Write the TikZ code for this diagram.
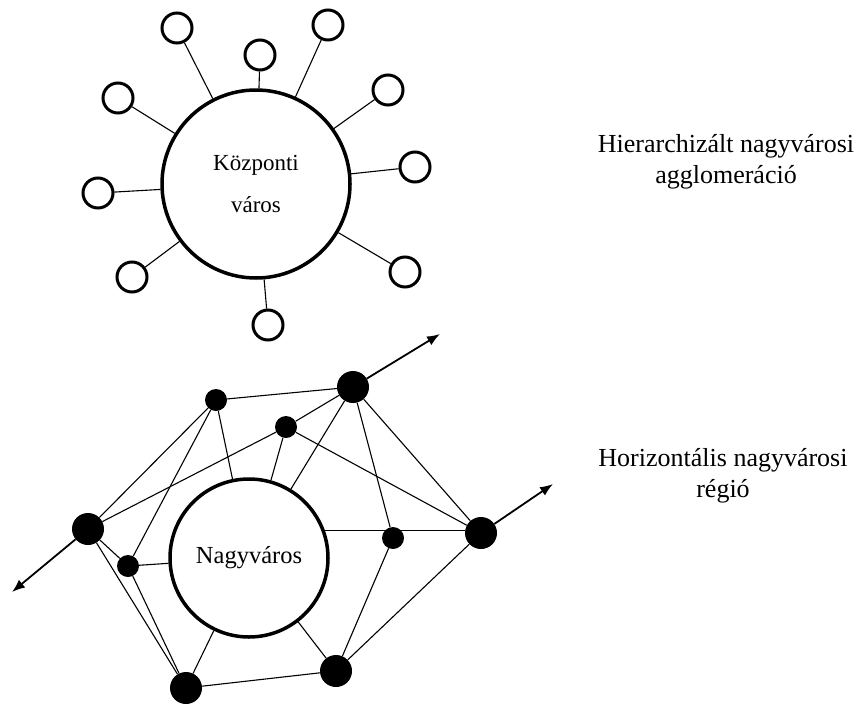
\documentclass[tikz,border=0pt]{standalone}
\usepackage{fontspec}
\setmainfont{Liberation Serif}
\usetikzlibrary{arrows.meta}

\begin{document}
\begin{tikzpicture}[
        x=1pt, y=-1pt,
        kozpont/.style={circle, draw, line width=3.5pt, minimum size=188pt,
          inner sep=0pt, align=center, font=\fontsize{23}{42}\selectfont},
        telepules/.style={circle, draw, line width=3pt, minimum size=30pt, inner sep=0pt},
        nagyvaros/.style={circle, draw, line width=3.5pt, minimum size=158pt,
          inner sep=0pt, font=\fontsize{24.5}{28}\selectfont},
        nagypont/.style={circle, fill, minimum size=32pt, inner sep=0pt},
        kispont/.style={circle, fill, minimum size=22pt, inner sep=0pt},
        felirat/.style={align=center, font=\fontsize{26}{31}\selectfont},
        kapcsolat/.style={line width=1.1pt},
        irany/.style={line width=1.8pt, -{Latex[length=13pt,width=10pt]}}
      ]
        % 画布
        \useasboundingbox (0,0) rectangle (861,704);
        % 中心城市
        \node[kozpont] (K) at (256,184) {Központi\\város};
        % 卫星城镇
        \node[telepules] (s1) at (177,28) {};
        \node[telepules] (s2) at (260,55) {};
        \node[telepules] (s3) at (328,25) {};
        \node[telepules] (s4) at (388,90) {};
        \node[telepules] (s5) at (415,167) {};
        \node[telepules] (s6) at (405,272) {};
        \node[telepules] (s7) at (268,325) {};
        \node[telepules] (s8) at (132,277) {};
        \node[telepules] (s9) at (98,193) {};
        \node[telepules] (s10) at (118,98) {};
        % 连线
        \draw[kapcsolat] (s1) -- (K);
        \draw[kapcsolat] (s2) -- (K);
        \draw[kapcsolat] (s3) -- (K);
        \draw[kapcsolat] (s4) -- (K);
        \draw[kapcsolat] (s5) -- (K);
        \draw[kapcsolat] (s6) -- (K);
        \draw[kapcsolat] (s7) -- (K);
        \draw[kapcsolat] (s8) -- (K);
        \draw[kapcsolat] (s9) -- (K);
        \draw[kapcsolat] (s10) -- (K);
        % 大城市
        \node[nagyvaros] (N) at (249,558) {Nagyváros};
        % 网络节点
        \node[nagypont] (A) at (88,529) {};
        \node[kispont] (B) at (128,566) {};
        \node[kispont] (C) at (216,400) {};
        \node[kispont] (D) at (286,427) {};
        \node[nagypont] (E) at (186,688) {};
        \node[nagypont] (F) at (353,387) {};
        \node[kispont] (G) at (393,538) {};
        \node[nagypont] (H) at (481,533) {};
        \node[nagypont] (I) at (336,671) {};
        % 箭头终点
        \coordinate (a1) at (12,592);
        \coordinate (a2) at (440,334);
        \coordinate (a3) at (553,484);
        % 网络连线
        \draw[kapcsolat] (C) -- (F);
        \draw[kapcsolat] (C) -- (A);
        \draw[kapcsolat] (C) -- (B);
        \draw[kapcsolat] (C) -- (N);
        \draw[kapcsolat] (D) -- (A);
        \draw[kapcsolat] (D) -- (F);
        \draw[kapcsolat] (D) -- (N);
        \draw[kapcsolat] (D) -- (H);
        \draw[kapcsolat] (F) -- (N);
        \draw[kapcsolat] (F) -- (G);
        \draw[kapcsolat] (F) -- (H);
        \draw[kapcsolat] (N.20) -- (N.20 -| H.west);
        \draw[kapcsolat] (G) -- (I);
        \draw[kapcsolat] (H) -- (I);
        \draw[kapcsolat] (N) -- (I);
        \draw[kapcsolat] (I) -- (E);
        \draw[kapcsolat] (E) -- (N);
        \draw[kapcsolat] (E) -- (B);
        \draw[kapcsolat] (E) -- (A);
        \draw[kapcsolat] (A) -- (B);
        \draw[kapcsolat] (B) -- (N);
        % 箭头
        \draw[irany] (A) -- (a1);
        \draw[irany] (F) -- (a2);
        \draw[irany] (H) -- (a3);
        % 文字说明
        \node[felirat] (hier) at (726,162) {Hierarchizált nagyvárosi\\agglomeráció};
        \node[felirat] (horiz) at (723,476) {Horizontális nagyvárosi\\régió};
      \end{tikzpicture}
\end{document}
